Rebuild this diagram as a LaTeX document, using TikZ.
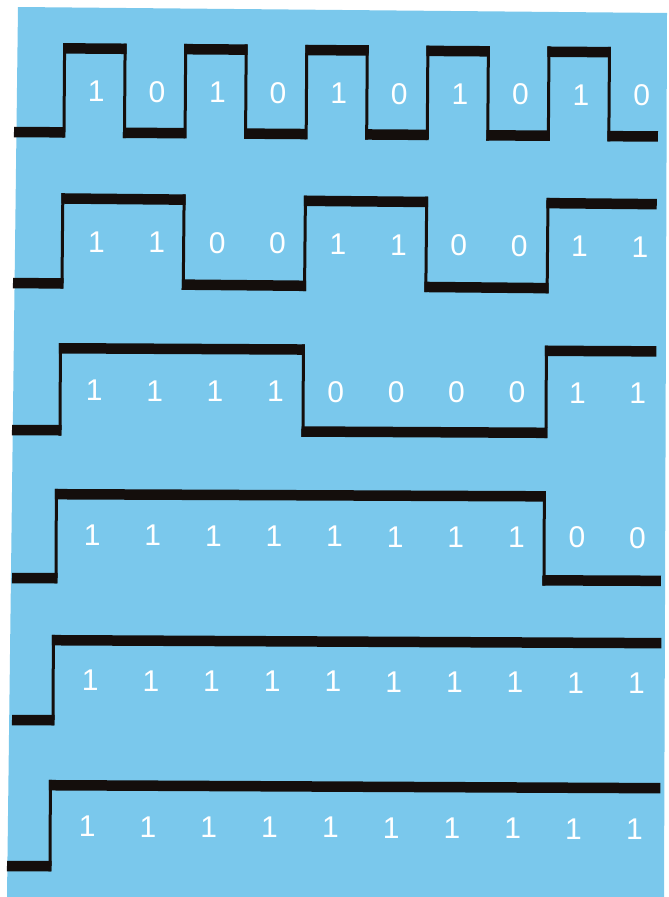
\documentclass[tikz,border=0pt]{standalone}
\usepackage{fontspec}
\newfontfamily\bitfont{Liberation Sans}
\definecolor{bgblue}{RGB}{122,200,236}
\definecolor{inkblack}{RGB}{20,14,12}
\tikzset{
  hbar/.style={draw=inkblack, line width=10.5pt, line cap=butt},
  vedge/.style={draw=inkblack, line width=3pt, line cap=butt},
  bit/.style={text=white, inner sep=0pt, font=\bitfont\fontsize{30}{30}\selectfont}
}
% \hb{x1}{x2}{y}: thick level bar;  \ve{x}{H}{L}: thin transition
\newcommand\hb[3]{\draw[hbar] (#1,#3) -- (#2,#3);}
\newcommand\ve[3]{\draw[vedge] (#1,#2-5.25) -- (#1,#3+5.25);}
\begin{document}
\begin{tikzpicture}[x=1pt,y=-1pt]
\useasboundingbox (0,0) rectangle (669,897);
\fill[white] (0,0) rectangle (669,897);
\fill[bgblue] (18,7) -- (667,13) -- (664,897) -- (7,897) -- cycle;

% ---------- row 1 : 1010101010 ----------
\begin{scope}[rotate around={-0.4:(14,132)}]
  \hb{14}{64}{132}
  \foreach \k in {0,...,4}{
    \pgfmathsetmacro\ra{64+121.1*\k}
    \pgfmathsetmacro\fa{124.5+121.1*\k}
    \pgfmathsetmacro\nr{\k<4 ? 185+121.1*\k : 658}
    \ve{\ra}{48}{132}
    \ve{\fa}{48}{132}
    \hb{\ra-1.5}{\fa+1.5}{48}
    \hb{\fa-1.5}{\nr}{132}
  }
  \foreach \b [count=\i from 0] in {1,0,1,0,1,0,1,0,1,0}
    \node[bit] (ra\i) at ({96+60.6*\i},91) {\b};
\end{scope}

% ---------- row 2 : 1100110011 ----------
\begin{scope}[rotate around={-0.55:(13,283)}]
  \hb{13}{63.5}{283}
  \ve{62}{198}{283}
  \hb{60.5}{184.8}{198}
  \ve{183.3}{198}{283}
  \hb{181.8}{306.1}{283}
  \ve{304.6}{198}{283}
  \hb{303.1}{427.4}{198}
  \ve{425.9}{198}{283}
  \hb{424.4}{548.7}{283}
  \ve{547.2}{198}{283}
  \hb{545.7}{656}{198}
  \foreach \b [count=\i from 0] in {1,1,0,0,1,1,0,0,1,1}
    \node[bit] (rb\i) at ({96+60.4*\i},241) {\b};
\end{scope}

% ---------- row 3 : 1111000011 ----------
\begin{scope}[rotate around={-0.3:(12,430)}]
  \hb{12}{61.5}{430}
  \ve{60}{348}{430}
  \hb{58.5}{304.5}{348}
  \ve{303}{348}{430}
  \hb{301.5}{547.5}{430}
  \ve{546}{348}{430}
  \hb{544.5}{656}{348}
  \foreach \b [count=\i from 0] in {1,1,1,1,0,0,0,0,1,1}
    \node[bit] (rc\i) at ({94+60.4*\i},390) {\b};
\end{scope}

% ---------- row 4 : 1111111100 ----------
\begin{scope}[rotate around={-0.25:(12,578)}]
  \hb{12}{57.5}{578}
  \ve{56}{494}{578}
  \hb{54.5}{545.5}{494}
  \ve{544}{494}{578}
  \hb{542.5}{661}{578}
  \foreach \b [count=\i from 0] in {1,1,1,1,1,1,1,1,0,0}
    \node[bit] (rd\i) at ({92+60.6*\i},535) {\b};
\end{scope}

% ---------- row 5 : 1111111111 ----------
\begin{scope}[rotate around={-0.28:(12,720)}]
  \hb{12}{54.5}{720}
  \ve{53}{640}{720}
  \hb{51.5}{661}{640}
  \foreach \b [count=\i from 0] in {1,1,1,1,1,1,1,1,1,1}
    \node[bit] (re\i) at ({90+60.7*\i},680) {\b};
\end{scope}

% ---------- row 6 : 1111111111 ----------
\begin{scope}[rotate around={-0.28:(7,866)}]
  \hb{7}{51.5}{866}
  \ve{50}{785}{866}
  \hb{48.5}{660}{785}
  \foreach \b [count=\i from 0] in {1,1,1,1,1,1,1,1,1,1}
    \node[bit] (rf\i) at ({87+60.8*\i},826) {\b};
\end{scope}
\end{tikzpicture}
\end{document}
